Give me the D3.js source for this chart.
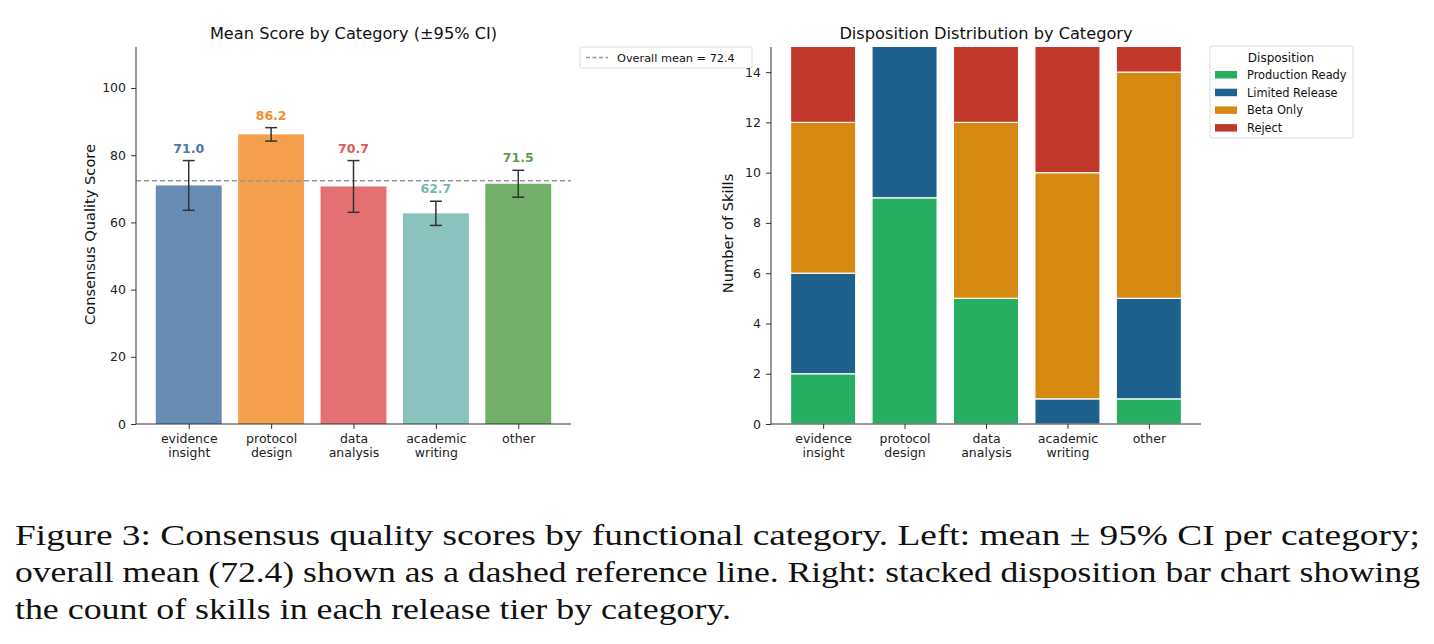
<!DOCTYPE html>
<html>
<head>
<meta charset="utf-8">
<script src="https://cdn.jsdelivr.net/npm/d3@7"></script>
<style>
  body { margin: 0; background: #fff; }
  svg { display: block; font-family: "DejaVu Sans", sans-serif; }
  .tick text { font-family: "DejaVu Sans", sans-serif; font-size: 12.5px; fill: #222; }
  .tick line { stroke: #333; }
  .domain { stroke: #333; }
</style>
</head>
<body>
<svg id="fig" width="1434" height="644"></svg>
<script>
// ---- data ----
const categories = ["evidence insight", "protocol design", "data analysis", "academic writing", "other"];
const meanScores = [71.0, 86.2, 70.7, 62.7, 71.5];
const ci95 = [7.4, 2.0, 7.7, 3.6, 4.0];
const overallMean = 72.4;
const barColors = ["#4e79a7", "#f28e2b", "#e15759", "#76b7b2", "#59a14f"];
const scoreTicks = [0, 20, 40, 60, 80, 100];

const dispositions = ["Production Ready", "Limited Release", "Beta Only", "Reject"];
const dispColors = ["#27ae60", "#1f618d", "#d68910", "#c0392b"];
const productionReady = [2, 9, 5, 0, 1];
const limitedRelease = [4, 7, 0, 1, 4];
const betaOnly = [6, 0, 7, 9, 9];
const reject = [4, 0, 4, 6, 2];
const countTicks = [0, 2, 4, 6, 8, 10, 12, 14];

const captionLines = [
  "Figure 3: Consensus quality scores by functional category.  Left: mean \u00b1 95% CI per category;",
  "overall mean (72.4) shown as a dashed reference line. Right: stacked disposition bar chart showing",
  "the count of skills in each release tier by category."
];
const captionWidths = [1405, 1405, 716];

const svg = d3.select("#fig");

// split category names onto two lines, like the matplotlib "\n" labels
function tickLabels(sel) {
    sel.selectAll(".tick text").each(function (d) {
        const t = d3.select(this);
        const words = categories[d].split(" ");
        t.text(null);
        words.forEach((w, i) => {
            t.append("tspan").attr("x", 0).attr("dy", i === 0 ? "0.71em" : "1.15em").text(w);
        });
    });
}

// ---------------- left panel ----------------
(function () {
    const left = 136, right = 571, top = 47, bottom = 424;
    const g = svg.append("g");

    const x = d3.scaleLinear().domain([-0.64, 4.64]).range([left, right]);
    const y = d3.scaleLinear().domain([0, 112.2]).range([bottom, top]);
    const bw = x(0.4) - x(-0.4);

    g.append("text").attr("x", (left + right) / 2).attr("y", 39)
        .attr("text-anchor", "middle").style("font-size", "16.2px").attr("fill", "#111")
        .text("Mean Score by Category (\u00b195% CI)");

    g.selectAll("rect.bar").data(meanScores).enter().append("rect")
        .attr("class", "bar")
        .attr("x", (d, i) => x(i) - bw / 2)
        .attr("width", bw)
        .attr("y", d => y(d))
        .attr("height", d => y(0) - y(d))
        .attr("fill", (d, i) => barColors[i])
        .attr("fill-opacity", 0.85);

    // mean line
    g.append("line")
        .attr("x1", left).attr("x2", right)
        .attr("y1", y(overallMean)).attr("y2", y(overallMean))
        .attr("stroke", "#999").attr("stroke-width", 1.3)
        .attr("stroke-dasharray", "5,3");

    // error bars
    const eb = g.selectAll("g.err").data(meanScores).enter().append("g").attr("class", "err")
        .attr("stroke", "#333").attr("stroke-width", 1.5);
    eb.append("line").attr("x1", (d, i) => x(i)).attr("x2", (d, i) => x(i))
        .attr("y1", (d, i) => y(d - ci95[i])).attr("y2", (d, i) => y(d + ci95[i]));
    eb.append("line").attr("x1", (d, i) => x(i) - 6).attr("x2", (d, i) => x(i) + 6)
        .attr("y1", (d, i) => y(d - ci95[i])).attr("y2", (d, i) => y(d - ci95[i]));
    eb.append("line").attr("x1", (d, i) => x(i) - 6).attr("x2", (d, i) => x(i) + 6)
        .attr("y1", (d, i) => y(d + ci95[i])).attr("y2", (d, i) => y(d + ci95[i]));

    g.selectAll("text.val").data(meanScores).enter().append("text")
        .attr("class", "val")
        .attr("x", (d, i) => x(i))
        .attr("y", (d, i) => y(d + ci95[i]) - 8)
        .attr("text-anchor", "middle")
        .style("font-size", "12.5px").style("font-weight", "bold")
        .attr("fill", (d, i) => barColors[i])
        .text(d => d.toFixed(1));

    const yAxis = g.append("g").attr("transform", `translate(${left},0)`)
        .call(d3.axisLeft(y).tickValues(scoreTicks).tickSize(5).tickPadding(5));
    yAxis.select(".domain").attr("d", `M0,${bottom}V${top}`);

    const xAxis = g.append("g").attr("transform", `translate(0,${bottom})`)
        .call(d3.axisBottom(x).tickValues(d3.range(categories.length))
            .tickFormat(i => categories[i]).tickSize(5).tickPadding(5));
    xAxis.select(".domain").attr("d", `M${left},0H${right}`);
    tickLabels(xAxis);

    g.append("text")
        .attr("transform", `translate(95,${(top + bottom) / 2 - 1}) rotate(-90)`)
        .attr("text-anchor", "middle").style("font-size", "14.6px").attr("fill", "#111")
        .text("Consensus Quality Score");

    // legend
    const lg = g.append("g").attr("transform", "translate(580,47)");
    lg.append("rect").attr("width", 172).attr("height", 21).attr("rx", 2)
        .attr("fill", "#fff").attr("stroke", "#ddd");
    lg.append("line").attr("x1", 6).attr("x2", 28).attr("y1", 10.5).attr("y2", 10.5)
        .attr("stroke", "#999").attr("stroke-width", 1.3).attr("stroke-dasharray", "4,2.5");
    lg.append("text").attr("x", 37).attr("y", 14.8).style("font-size", "11.3px").attr("fill", "#111")
        .text(`Overall mean = ${overallMean}`);
})();

// ---------------- right panel ----------------
(function () {
    const left = 771, right = 1201, top = 47, bottom = 424;
    const g = svg.append("g");

    const x = d3.scaleLinear().domain([-0.64, 4.64]).range([left, right]);
    const y = d3.scaleLinear().domain([0, 15]).range([bottom, top]);
    const bw = x(0.4) - x(-0.4);

    g.append("text").attr("x", (left + right) / 2).attr("y", 39)
        .attr("text-anchor", "middle").style("font-size", "16.2px").attr("fill", "#111")
        .text("Disposition Distribution by Category");

    const rows = categories.map((c, i) => ({
        i: i,
        "Production Ready": productionReady[i],
        "Limited Release": limitedRelease[i],
        "Beta Only": betaOnly[i],
        "Reject": reject[i]
    }));
    const stack = d3.stack().keys(dispositions)(rows);

    svg.append("clipPath").attr("id", "clipR").append("rect")
        .attr("x", left).attr("y", top).attr("width", right - left).attr("height", bottom - top);

    const layers = g.append("g").attr("clip-path", "url(#clipR)")
        .selectAll("g").data(stack).enter().append("g")
        .attr("fill", (d, k) => dispColors[k]);
    layers.selectAll("rect").data(d => d.filter(s => s[1] > s[0])).enter().append("rect")
        .attr("x", s => x(s.data.i) - bw / 2)
        .attr("width", bw)
        .attr("y", s => y(s[1]))
        .attr("height", s => y(s[0]) - y(s[1]))
        .attr("stroke", "#fff").attr("stroke-width", 1.2);

    const yAxis = g.append("g").attr("transform", `translate(${left},0)`)
        .call(d3.axisLeft(y).tickValues(countTicks).tickSize(5).tickPadding(5));
    yAxis.select(".domain").attr("d", `M0,${bottom}V${top}`);

    const xAxis = g.append("g").attr("transform", `translate(0,${bottom})`)
        .call(d3.axisBottom(x).tickValues(d3.range(categories.length))
            .tickFormat(i => categories[i]).tickSize(5).tickPadding(5));
    xAxis.select(".domain").attr("d", `M${left},0H${right}`);
    tickLabels(xAxis);

    g.append("text")
        .attr("transform", `translate(733,${(top + bottom) / 2 - 2}) rotate(-90)`)
        .attr("text-anchor", "middle").style("font-size", "14.6px").attr("fill", "#111")
        .text("Number of Skills");

    // legend
    const lg = g.append("g").attr("transform", "translate(1210,46)");
    lg.append("rect").attr("width", 143).attr("height", 92).attr("rx", 2)
        .attr("fill", "#fff").attr("stroke", "#ddd");
    lg.append("text").attr("x", 71).attr("y", 15.5).attr("text-anchor", "middle")
        .style("font-size", "12px").attr("fill", "#111").text("Disposition");
    const items = lg.selectAll("g.item").data(dispositions).enter().append("g")
        .attr("transform", (d, k) => `translate(5,${29 + k * 17.7})`);
    items.append("rect").attr("width", 22).attr("height", 7.5).attr("y", -4)
        .attr("fill", (d, k) => dispColors[k]);
    items.append("text").attr("x", 32).attr("y", 4).style("font-size", "11.4px").attr("fill", "#111")
        .text(d => d);
})();

// ---------------- caption ----------------
svg.selectAll("text.cap").data(captionLines).enter().append("text")
    .attr("class", "cap")
    .attr("x", 15)
    .attr("y", (d, i) => 545 + i * 37)
    .style("font-family", "'Liberation Serif', serif")
    .style("font-size", "30px").attr("fill", "#111")
    .attr("textLength", (d, i) => captionWidths[i])
    .attr("lengthAdjust", "spacingAndGlyphs")
    .text(d => d);
</script>
</body>
</html>
